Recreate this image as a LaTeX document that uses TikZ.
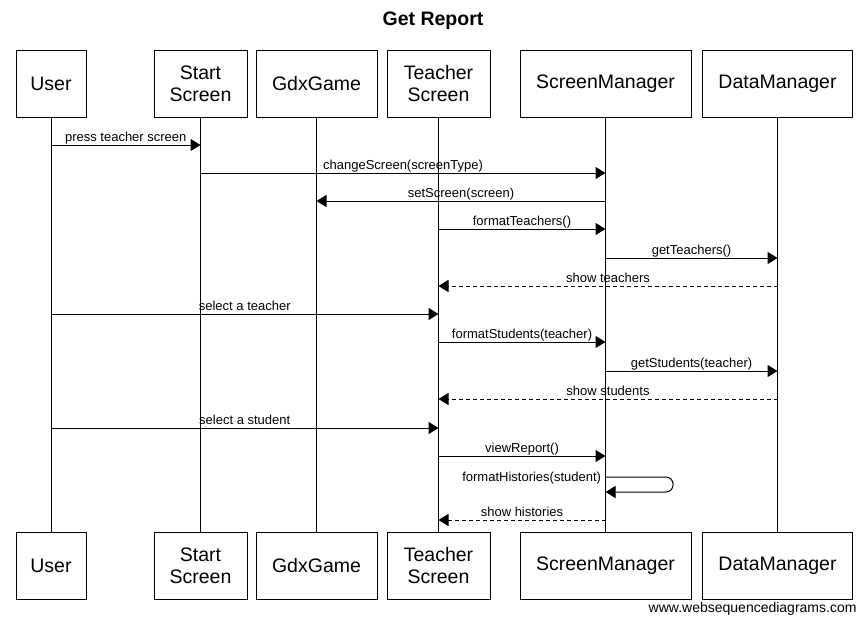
\documentclass[tikz,border=0pt]{standalone}
\usepackage{fontspec}
\setmainfont{Liberation Sans}
\usetikzlibrary{arrows.meta}
\begin{document}
\begin{tikzpicture}[x=1pt,y=-1pt,line width=1pt,
  part/.style={draw,minimum height=67pt,inner sep=0pt,align=center,font=\fontsize{19.5}{22}\selectfont},
  msg/.style={-{Triangle[length=10pt,width=12pt]}},
  ret/.style={msg,dash pattern=on 4pt off 3pt},
  lab/.style={anchor=base,yshift=3.5pt,inner sep=0pt,font=\fontsize{13}{14}\selectfont},
  life/.style={line width=1pt}]
\useasboundingbox (0,0) rectangle (866,624);
\node[font=\bfseries\fontsize{19.5}{21}\selectfont] (title) at (433,21) {Get Report};
% top participants
\node[part,minimum width=70pt]  (u)  at (51,83.5)  {User};
\node[part,minimum width=93pt]  (s)  at (200.5,83.5) {Start\\Screen};
\node[part,minimum width=121pt] (g)  at (316.5,83.5) {GdxGame};
\node[part,minimum width=103pt] (t)  at (438.5,83.5) {Teacher\\Screen};
\node[part,minimum width=171pt] (sm) at (605.5,83.5) {ScreenManager};
\node[part,minimum width=150pt] (dm) at (777.5,83.5) {DataManager};
% bottom participants
\node[part,minimum width=70pt]  (ub)  at (51,566)  {User};
\node[part,minimum width=93pt]  (sb)  at (200.5,566) {Start\\Screen};
\node[part,minimum width=121pt] (gb)  at (316.5,566) {GdxGame};
\node[part,minimum width=103pt] (tb)  at (438.5,566) {Teacher\\Screen};
\node[part,minimum width=171pt] (smb) at (605.5,566) {ScreenManager};
\node[part,minimum width=150pt] (dmb) at (777.5,566) {DataManager};
% lifelines
\foreach \a/\b in {u/ub,s/sb,g/gb,t/tb,sm/smb,dm/dmb}
  \draw[life] (\a.south) -- (\b.north);
% messages
\draw[msg] (u.south |- 0,145) -- node[lab]{press teacher screen} (s.south |- 0,145);
\draw[msg] (s.south |- 0,173) -- node[lab]{changeScreen(screenType)} (sm.south |- 0,173);
\draw[msg] (sm.south |- 0,201) -- node[lab]{setScreen(screen)} (g.south |- 0,201);
\draw[msg] (t.south |- 0,229) -- node[lab]{formatTeachers()} (sm.south |- 0,229);
\draw[msg] (sm.south |- 0,258) -- node[lab]{getTeachers()} (dm.south |- 0,258);
\draw[ret] (dm.south |- 0,286) -- node[lab]{show teachers} (t.south |- 0,286);
\draw[msg] (u.south |- 0,314) -- node[lab]{select a teacher} (t.south |- 0,314);
\draw[msg] (t.south |- 0,342) -- node[lab]{formatStudents(teacher)} (sm.south |- 0,342);
\draw[msg] (sm.south |- 0,371) -- node[lab]{getStudents(teacher)} (dm.south |- 0,371);
\draw[ret] (dm.south |- 0,399) -- node[lab]{show students} (t.south |- 0,399);
\draw[msg] (u.south |- 0,428) -- node[lab]{select a student} (t.south |- 0,428);
\draw[msg] (t.south |- 0,456) -- node[lab]{viewReport()} (sm.south |- 0,456);
\coordinate (loopA) at (673,477);
\coordinate (loopB) at (673,492);
\draw[msg,rounded corners=7pt] (sm.south |- 0,477) -- (loopA) -- (loopB) -- (sm.south |- 0,492);
\node[anchor=east,inner sep=0pt,font=\fontsize{13}{14}\selectfont] (fh) at (601.5,478) {formatHistories(student)};
\draw[ret] (sm.south |- 0,520) -- node[lab]{show histories} (t.south |- 0,520);
\node[anchor=east,inner sep=0pt,font=\fontsize{14}{15}\selectfont] (wsd) at (857,609) {www.websequencediagrams.com};
\end{tikzpicture}
\end{document}
